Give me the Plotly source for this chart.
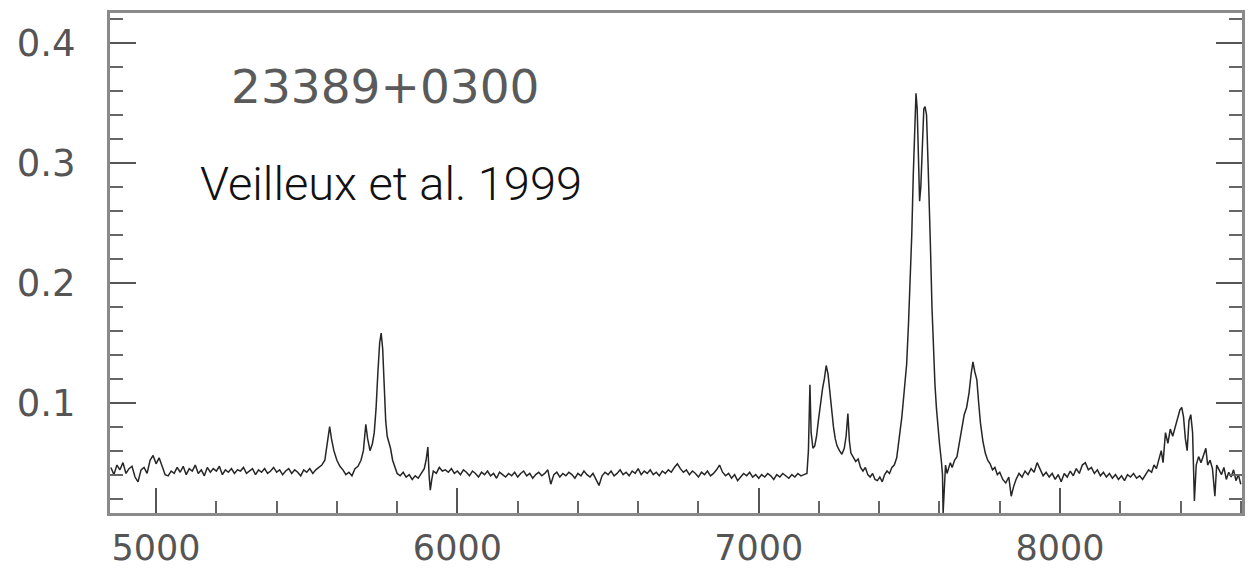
import plotly.graph_objects as go

# ---- data (wavelength in Angstrom, flux) ----
blue_wave = [4850, 4860, 4870, 4880, 4890, 4900, 4910, 4920, 4930, 4940, 4950, 4960, 4970, 4980, 4990,
             5000, 5010, 5020, 5030, 5040, 5050, 5060, 5070, 5080, 5090, 5100, 5110, 5120, 5130, 5140,
             5150, 5160, 5170, 5180, 5190, 5200, 5210, 5220, 5230, 5240, 5250, 5260, 5270, 5280, 5290,
             5300, 5310, 5320, 5330, 5340, 5350, 5360, 5370, 5380, 5390, 5400, 5410, 5420, 5430, 5440,
             5450, 5460, 5470, 5480, 5490, 5500, 5510, 5520, 5530, 5540]
blue_flux = [0.046, 0.040, 0.048, 0.044, 0.050, 0.041, 0.045, 0.047, 0.038, 0.034, 0.044, 0.046, 0.041, 0.052, 0.056,
             0.049, 0.054, 0.046, 0.040, 0.039, 0.043, 0.041, 0.046, 0.042, 0.047, 0.040, 0.045, 0.043, 0.048, 0.041,
             0.044, 0.039, 0.046, 0.042, 0.045, 0.043, 0.047, 0.040, 0.044, 0.042, 0.045, 0.041, 0.044, 0.043, 0.046,
             0.041, 0.043, 0.045, 0.040, 0.044, 0.042, 0.045, 0.041, 0.043, 0.046, 0.042, 0.044, 0.040, 0.043, 0.045,
             0.041, 0.044, 0.042, 0.039, 0.044, 0.042, 0.045, 0.041, 0.044, 0.046]

hb_wave = [5550, 5560, 5570, 5576, 5582, 5590, 5600, 5610, 5620, 5630, 5640, 5650, 5660, 5670, 5680, 5688,
           5696, 5702, 5710, 5718, 5724, 5730, 5736, 5742, 5747, 5752, 5757, 5762, 5767, 5772, 5778, 5785,
           5792, 5800, 5810, 5820, 5830, 5840, 5850, 5860, 5870, 5880, 5890, 5896, 5902, 5906, 5910, 5915,
           5920, 5930, 5940, 5950, 5960]
hb_flux = [0.048, 0.052, 0.068, 0.080, 0.070, 0.060, 0.052, 0.047, 0.044, 0.040, 0.042, 0.039, 0.045, 0.047, 0.052, 0.060,
           0.082, 0.070, 0.060, 0.066, 0.075, 0.095, 0.125, 0.150, 0.158, 0.145, 0.115, 0.085, 0.072, 0.068, 0.062, 0.052,
           0.046, 0.041, 0.039, 0.042, 0.038, 0.040, 0.036, 0.039, 0.037, 0.041, 0.045, 0.052, 0.063, 0.040, 0.027, 0.036,
           0.043, 0.041, 0.046, 0.043, 0.044]

mid_wave = [5970, 5980, 5990, 6000, 6010, 6020, 6030, 6040, 6050, 6060, 6070, 6080, 6090, 6100, 6110, 6120,
            6130, 6140, 6150, 6160, 6170, 6180, 6190, 6200, 6210, 6220, 6230, 6240, 6250, 6260, 6270, 6280,
            6290, 6300, 6310, 6320, 6330, 6340, 6350, 6360, 6370, 6380, 6390, 6400, 6410, 6420, 6430, 6440,
            6450, 6460, 6470, 6480, 6490, 6500, 6510, 6520, 6530, 6540, 6550, 6560, 6570, 6580, 6590, 6600,
            6610, 6620, 6630, 6640, 6650, 6660, 6670, 6680, 6690, 6700, 6710, 6720, 6730, 6740, 6750, 6760,
            6770, 6780, 6790, 6800, 6810, 6820, 6830, 6840, 6850, 6860, 6870, 6880, 6890, 6900, 6910, 6920,
            6930, 6940, 6950, 6960, 6970, 6980, 6990, 7000, 7010, 7020, 7030, 7040, 7050, 7060, 7070, 7080,
            7090, 7100, 7110, 7120, 7130, 7140, 7150]
mid_flux = [0.042, 0.045, 0.041, 0.043, 0.040, 0.044, 0.042, 0.039, 0.043, 0.041, 0.038, 0.042, 0.040, 0.043, 0.039, 0.041,
            0.037, 0.042, 0.040, 0.038, 0.041, 0.039, 0.042, 0.038, 0.041, 0.043, 0.039, 0.041, 0.037, 0.040, 0.042, 0.039,
            0.041, 0.044, 0.032, 0.040, 0.042, 0.038, 0.041, 0.039, 0.042, 0.040, 0.037, 0.041, 0.039, 0.043, 0.040, 0.038,
            0.041, 0.036, 0.031, 0.039, 0.042, 0.040, 0.043, 0.039, 0.041, 0.044, 0.040, 0.042, 0.039, 0.043, 0.041, 0.045,
            0.040, 0.043, 0.041, 0.044, 0.040, 0.042, 0.039, 0.043, 0.041, 0.044, 0.042, 0.046, 0.049, 0.045, 0.042, 0.044,
            0.040, 0.043, 0.041, 0.038, 0.042, 0.040, 0.043, 0.039, 0.041, 0.044, 0.048, 0.042, 0.039, 0.041, 0.037, 0.040,
            0.035, 0.038, 0.041, 0.039, 0.042, 0.038, 0.040, 0.037, 0.040, 0.038, 0.041, 0.039, 0.036, 0.040, 0.038, 0.041,
            0.039, 0.037, 0.040, 0.038, 0.041, 0.039, 0.040]

oiii_wave = [7160, 7165, 7170, 7174, 7180, 7186, 7192, 7198, 7205, 7212, 7218, 7224, 7230, 7236, 7242, 7248,
             7254, 7260, 7268, 7276, 7284, 7290, 7296, 7301, 7306, 7314, 7322, 7330, 7338, 7346, 7354, 7362,
             7370, 7378, 7386, 7394, 7402, 7410, 7418, 7426]
oiii_flux = [0.041, 0.060, 0.115, 0.075, 0.062, 0.064, 0.072, 0.085, 0.100, 0.112, 0.120, 0.131, 0.124, 0.110, 0.092, 0.080,
             0.070, 0.064, 0.060, 0.057, 0.062, 0.072, 0.091, 0.068, 0.058, 0.055, 0.051, 0.053, 0.046, 0.043, 0.046, 0.040,
             0.038, 0.041, 0.036, 0.035, 0.038, 0.034, 0.040, 0.043]

ha_wave = [7434, 7442, 7450, 7458, 7466, 7475, 7483, 7491, 7497, 7503, 7508, 7513, 7518, 7522, 7526, 7530,
           7534, 7538, 7543, 7548, 7552, 7557, 7562, 7566, 7570, 7575, 7579, 7585, 7590, 7595, 7600, 7606,
           7610, 7612, 7616, 7620, 7625, 7630, 7636, 7642, 7650, 7658, 7666, 7674, 7682, 7690, 7698, 7705,
           7711, 7717, 7724, 7730, 7736, 7744, 7752, 7760, 7768, 7776, 7784, 7792, 7800, 7810, 7820, 7830,
           7838, 7846, 7854]
ha_flux = [0.041, 0.046, 0.048, 0.054, 0.068, 0.088, 0.110, 0.132, 0.165, 0.200, 0.240, 0.290, 0.330, 0.358, 0.345, 0.300,
           0.268, 0.280, 0.320, 0.345, 0.347, 0.340, 0.300, 0.270, 0.230, 0.180, 0.150, 0.115, 0.095, 0.078, 0.066, 0.052,
           0.040, 0.008, 0.030, 0.048, 0.041, 0.045, 0.050, 0.046, 0.052, 0.055, 0.066, 0.080, 0.090, 0.096, 0.108, 0.124,
           0.134, 0.126, 0.119, 0.100, 0.083, 0.068, 0.058, 0.052, 0.049, 0.044, 0.046, 0.040, 0.042, 0.036, 0.033, 0.038,
           0.022, 0.030, 0.036]

red_wave = [7864, 7874, 7884, 7894, 7904, 7914, 7924, 7934, 7944, 7954, 7964, 7974, 7984, 7994, 8004, 8014,
            8024, 8034, 8044, 8054, 8064, 8074, 8084, 8094, 8104, 8114, 8124, 8134, 8144, 8154, 8164, 8174,
            8184, 8194, 8204, 8214, 8224, 8234, 8244, 8254, 8264, 8274, 8284, 8294, 8304, 8312, 8320, 8328,
            8336, 8342, 8350, 8358, 8366, 8374, 8382, 8390, 8398, 8404, 8410, 8416, 8422, 8428, 8434, 8440,
            8446, 8452, 8460, 8468, 8476, 8484, 8490, 8498, 8506, 8514, 8520, 8528, 8536, 8544, 8552, 8560,
            8568, 8576, 8584, 8592, 8600]
red_flux = [0.041, 0.038, 0.043, 0.040, 0.045, 0.042, 0.050, 0.044, 0.039, 0.042, 0.038, 0.041, 0.036, 0.040, 0.034, 0.041,
            0.038, 0.043, 0.039, 0.045, 0.041, 0.048, 0.050, 0.044, 0.046, 0.041, 0.044, 0.039, 0.042, 0.038, 0.041, 0.037,
            0.040, 0.036, 0.039, 0.035, 0.040, 0.038, 0.041, 0.037, 0.039, 0.036, 0.040, 0.044, 0.042, 0.048, 0.045, 0.052,
            0.060, 0.050, 0.075, 0.066, 0.078, 0.072, 0.080, 0.087, 0.094, 0.096, 0.088, 0.070, 0.060, 0.085, 0.090, 0.075,
            0.018, 0.048, 0.055, 0.050, 0.056, 0.062, 0.048, 0.052, 0.045, 0.022, 0.048, 0.044, 0.040, 0.046, 0.036, 0.042,
            0.038, 0.044, 0.035, 0.040, 0.032]

x_tick_vals = [5000, 6000, 7000, 8000]
x_tick_text = ["5000", "6000", "7000", "8000"]
y_tick_vals = [0.1, 0.2, 0.3, 0.4]
y_tick_text = ["0.1", "0.2", "0.3", "0.4"]

object_label = "23389+0300"
source_label = "Veilleux et al. 1999"

wave = blue_wave + hb_wave + mid_wave + oiii_wave + ha_wave + red_wave
flux = blue_flux + hb_flux + mid_flux + oiii_flux + ha_flux + red_flux

fig = go.Figure()
fig.add_trace(go.Scatter(x=wave, y=flux, mode="lines",
                         line=dict(color="#262626", width=1.5), showlegend=False))

x_tick_font = dict(family="DejaVu Sans", size=35, color="#555555")
y_tick_font = dict(family="DejaVu Sans", size=37, color="#555555")
fig.update_xaxes(range=[4847, 8604], tickmode="array", tickvals=x_tick_vals, ticktext=x_tick_text,
                 ticks="inside", ticklen=25, tickwidth=2, tickcolor="#555555",
                 minor=dict(dtick=200, tick0=0, ticks="inside", ticklen=12, tickwidth=2, tickcolor="#666666"),
                 showline=True, linecolor="#8a8a8a", linewidth=3, mirror=True, automargin=False,
                 showgrid=False, zeroline=False, tickfont=x_tick_font, ticklabelstandoff=2)
fig.update_yaxes(range=[0.008, 0.425], tickmode="array", tickvals=y_tick_vals, ticktext=y_tick_text,
                 ticks="inside", ticklen=26, tickwidth=2, tickcolor="#555555",
                 minor=dict(dtick=0.02, tick0=0, ticks="inside", ticklen=13, tickwidth=2, tickcolor="#666666"),
                 showline=True, linecolor="#8a8a8a", linewidth=3, mirror="ticks", automargin=False,
                 showgrid=False, zeroline=False, tickfont=y_tick_font, ticklabelstandoff=24)

fig.add_annotation(x=5760, y=0.364, xref="x", yref="y", text=object_label, showarrow=False,
                   font=dict(family="DejaVu Sans", size=47, color="#5a5a5a"))
fig.add_annotation(x=5780, y=0.2825, xref="x", yref="y", text=source_label, showarrow=False,
                   font=dict(family="Roboto", size=47, color="#111111", weight=300))

fig.update_layout(width=1257, height=572, margin=dict(l=110, r=15, t=13, b=59),
                  paper_bgcolor="white", plot_bgcolor="white")

fig.write_html("out.html")
